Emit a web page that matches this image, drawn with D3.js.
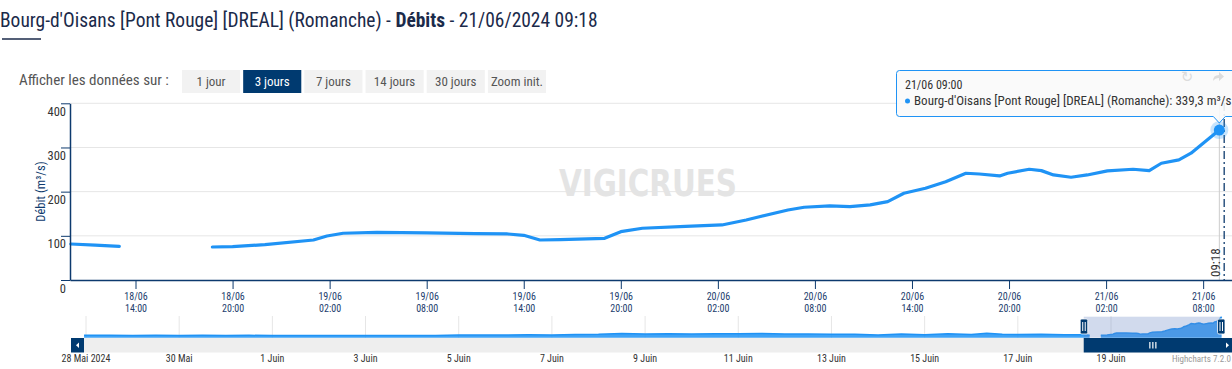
<!DOCTYPE html>
<html>
<head>
<meta charset="utf-8">
<script src="https://cdnjs.cloudflare.com/ajax/libs/d3/7.8.5/d3.min.js"></script>
<style>
  html, body { margin: 0; padding: 0; background: #fff; overflow: hidden; }
  svg { display: block; }
</style>
</head>
<body>
<div id="chart"></div>
<script>
var parse = d3.timeParse("%Y-%m-%dT%H:%M")

var stationName = "Bourg-d'Oisans [Pont Rouge] [DREAL] (Romanche)"
var rangeButtons = ["1 jour", "3 jours", "7 jours", "14 jours", "30 jours", "Zoom init."]
var activeButton = "3 jours"

// observed flows (m3/s), null = gap in the record
var obsTimes = [
  "2024-06-18T10:00", "2024-06-18T11:30", "2024-06-18T13:00", "2024-06-18T15:30",
  "2024-06-18T18:45", "2024-06-18T20:00", "2024-06-18T22:00", "2024-06-19T01:00",
  "2024-06-19T01:50", "2024-06-19T02:50", "2024-06-19T04:55", "2024-06-19T08:00",
  "2024-06-19T11:00", "2024-06-19T13:00", "2024-06-19T14:00", "2024-06-19T15:00",
  "2024-06-19T16:15", "2024-06-19T19:00", "2024-06-19T20:00", "2024-06-19T21:20",
  "2024-06-20T00:00", "2024-06-20T02:15", "2024-06-20T03:45", "2024-06-20T06:20",
  "2024-06-20T07:20", "2024-06-20T08:55", "2024-06-20T10:10", "2024-06-20T11:25",
  "2024-06-20T12:30", "2024-06-20T13:30", "2024-06-20T14:50", "2024-06-20T16:05",
  "2024-06-20T17:20", "2024-06-20T18:10", "2024-06-20T19:25", "2024-06-20T19:55",
  "2024-06-20T21:15", "2024-06-20T22:00", "2024-06-20T22:45", "2024-06-20T23:50",
  "2024-06-21T00:50", "2024-06-21T02:05", "2024-06-21T03:40", "2024-06-21T04:40",
  "2024-06-21T05:25", "2024-06-21T06:30", "2024-06-21T07:15", "2024-06-21T08:00",
  "2024-06-21T09:00"
]
var obsValues = [
  81.5, 79, 76.3, null,
  74.7, 75.4, 80, 90.6,
  99.7, 105.8, 108, 106.5,
  104.9, 104.2, 101.2, 90.6,
  91.3, 94.4, 109.4, 117.1,
  121.6, 124.6, 135.9, 158.5,
  164.7, 167.6, 166, 169.9,
  177.3, 196.4, 207.7, 222.6,
  241.7, 240, 235.6, 241.7,
  250.7, 247.6, 237.8, 232.6,
  237.8, 246.9, 250.7, 247.6,
  264.3, 271.8, 287, 309.6,
  339.3
]

// older record shown only in the navigator
var navTimes = [
  "2024-05-27T23:00", "2024-05-28T12:00", "2024-05-29T00:00", "2024-05-29T12:00",
  "2024-05-30T00:00", "2024-05-30T12:00", "2024-05-31T00:00", "2024-05-31T12:00",
  "2024-06-01T00:00", "2024-06-01T12:00", "2024-06-02T00:00", "2024-06-02T12:00",
  "2024-06-03T00:00", "2024-06-03T12:00", "2024-06-04T00:00", "2024-06-04T12:00",
  "2024-06-05T00:00", "2024-06-05T12:00", "2024-06-06T00:00", "2024-06-06T12:00",
  "2024-06-07T00:00", "2024-06-07T12:00", "2024-06-08T00:00", "2024-06-08T12:00",
  "2024-06-09T00:00", "2024-06-09T12:00", "2024-06-10T00:00", "2024-06-10T12:00",
  "2024-06-11T00:00", "2024-06-11T12:00", "2024-06-12T00:00", "2024-06-12T12:00",
  "2024-06-13T00:00", "2024-06-13T12:00", "2024-06-14T00:00", "2024-06-14T12:00",
  "2024-06-15T00:00", "2024-06-15T12:00", "2024-06-16T00:00", "2024-06-16T08:00",
  "2024-06-16T16:00", "2024-06-17T00:00", "2024-06-17T12:00", "2024-06-18T00:00"
]
var navValues = [
  76, 74, 72, 74,
  73, 76, 72, 74,
  71, 72, 70, 71,
  70, 71, 70, 72,
  78, 80, 78, 82,
  80, 84, 88, 100,
  92, 98, 92, 96,
  98, 100, 94, 92,
  90, 88, 80, 92,
  82, 96, 86, 104,
  88, 86, 90, 82
]

var yTicks = [0, 100, 200, 300, 400]
var xTicks = [
  "2024-06-18T14:00", "2024-06-18T20:00", "2024-06-19T02:00", "2024-06-19T08:00",
  "2024-06-19T14:00", "2024-06-19T20:00", "2024-06-20T02:00", "2024-06-20T08:00",
  "2024-06-20T14:00", "2024-06-20T20:00", "2024-06-21T02:00", "2024-06-21T08:00"
]
var navTicks = [
  "2024-05-28T00:00", "2024-05-30T00:00", "2024-06-01T00:00", "2024-06-03T00:00",
  "2024-06-05T00:00", "2024-06-07T00:00", "2024-06-09T00:00", "2024-06-11T00:00",
  "2024-06-13T00:00", "2024-06-15T00:00", "2024-06-17T00:00", "2024-06-19T00:00"
]
var navTickLabels = ["28 Mai 2024", "30 Mai", "1 Juin", "3 Juin", "5 Juin", "7 Juin",
  "9 Juin", "11 Juin", "13 Juin", "15 Juin", "17 Juin", "19 Juin"]

var viewStart = "2024-06-18T09:57"
var viewEnd = "2024-06-21T09:47"
var lastObs = "2024-06-21T09:18"
var hoverTime = "2024-06-21T09:00"

var FONT = "'Liberation Sans Narrow','Arial Narrow','Roboto Condensed','Noto Sans',sans-serif"
var NAVY = "#0d3a6e"
var BLUE = "#1f93f5"
var W = 1232, H = 369

var fr = d3.formatLocale({decimal: ",", thousands: " ", grouping: [3], currency: ["", " €"]})

function fitWidth(sel, w) {
  var cur = sel.node().getComputedTextLength()
  var fs = parseFloat(sel.style("font-size"))
  sel.style("font-size", (fs * w / cur) + "px")
}

var obs = obsTimes.map(function(t, i) { return {t: parse(t), v: obsValues[i]} })
var nav = navTimes.map(function(t, i) { return {t: parse(t), v: navValues[i]} }).concat(obs)

var svg = d3.select("#chart").append("svg")
  .attr("width", W).attr("height", H)
  .style("font-family", FONT)

// title
var title = svg.append("text")
  .attr("x", 0).attr("y", 27)
  .attr("fill", "#1b2a4a")
  .style("font-size", "20px")
title.append("tspan").text(stationName + " - ")
title.append("tspan").attr("font-weight", "bold").text("Débits")
title.append("tspan").text(" - 21/06/2024 09:18")
fitWidth(title, 598)

svg.append("line")
  .attr("x1", 2).attr("x2", 41).attr("y1", 39).attr("y2", 39)
  .attr("stroke", "#1b2a4a").attr("stroke-width", 1.5)

// range selector
var lbl = svg.append("text")
  .attr("x", 19).attr("y", 85)
  .attr("fill", "#555").style("font-size", "13px")
  .text("Afficher les données sur :")
fitWidth(lbl, 150)

var bx = d3.scaleBand().domain(rangeButtons).range([182, 546]).paddingInner(0.05)
var btn = svg.append("g").selectAll("g")
  .data(rangeButtons)
  .enter().append("g")
  .attr("transform", function(d) { return "translate(" + bx(d) + ",70)" })
btn.append("rect")
  .attr("width", bx.bandwidth()).attr("height", 23)
  .attr("fill", function(d) { return d === activeButton ? "#003a70" : "#f2f2f2" })
btn.append("text")
  .attr("x", bx.bandwidth() / 2).attr("y", 16)
  .attr("text-anchor", "middle")
  .style("font-size", "13px")
  .attr("fill", function(d) { return d === activeButton ? "#fff" : "#555" })
  .text(function(d) { return d })

// main plot scales
var x = d3.scaleTime().domain([parse(viewStart), parse(viewEnd)]).range([70, W])
var y = d3.scaleLinear().domain([0, 400]).range([280, 103.3])

svg.append("g").selectAll("line")
  .data(yTicks.filter(function(d) { return d > 0 }))
  .enter().append("line")
  .attr("x1", 70).attr("x2", W)
  .attr("y1", function(d) { return y(d) }).attr("y2", function(d) { return y(d) })
  .attr("stroke", "#e6e6e6")

// watermark
svg.append("text")
  .attr("x", 648).attr("y", 196)
  .attr("text-anchor", "middle")
  .attr("fill", "#e4e4e4")
  .style("font-family", "'DejaVu Sans',sans-serif")
  .style("font-weight", "bold").style("font-size", "38px")
  .attr("textLength", 178).attr("lengthAdjust", "spacingAndGlyphs")
  .text("VIGICRUES")

// hover crosshair + 09:18 plot line
var hx = x(parse(hoverTime))
svg.append("line")
  .attr("x1", hx).attr("x2", hx).attr("y1", 103).attr("y2", 280)
  .attr("stroke", "#cccccc")
var px = x(parse(lastObs))
svg.append("line")
  .attr("x1", px).attr("x2", px).attr("y1", 103).attr("y2", 280)
  .attr("stroke", NAVY).attr("stroke-width", 1.3)
  .attr("stroke-dasharray", "8,3,2,3")
svg.append("text")
  .attr("transform", "translate(" + (hx + 1) + ",277) rotate(-90)")
  .attr("fill", "#333").style("font-size", "13px")
  .text(d3.timeFormat("%H:%M")(parse(lastObs)))

// series
var line = d3.line()
  .defined(function(d) { return d.v != null })
  .x(function(d) { return x(d.t) })
  .y(function(d) { return y(d.v) })
svg.append("path")
  .datum(obs)
  .attr("d", line)
  .attr("fill", "none")
  .attr("stroke", BLUE).attr("stroke-width", 3.2)
  .attr("stroke-linejoin", "round").attr("stroke-linecap", "round")

// axes
var xAxis = svg.append("g")
  .attr("transform", "translate(0,280)")
  .call(d3.axisBottom(x).tickValues(xTicks.map(parse)).tickSize(9).tickSizeOuter(0).tickFormat(""))
xAxis.select(".domain").attr("stroke", NAVY).attr("stroke-width", 1.5)
xAxis.selectAll(".tick line").attr("stroke", NAVY)
xAxis.selectAll(".tick text").remove()
var xl = xAxis.selectAll(".tick").append("text")
  .attr("text-anchor", "middle").attr("fill", "#23406e")
  .style("font-size", "10px").style("font-family", FONT)
xl.append("tspan").attr("x", 0).attr("y", 20).text(function(d) { return d3.timeFormat("%d/%m")(d) })
xl.append("tspan").attr("x", 0).attr("y", 32).text(function(d) { return d3.timeFormat("%H:%M")(d) })

var yAxis = svg.append("g")
  .attr("transform", "translate(70,0)")
  .call(d3.axisLeft(y).tickValues(yTicks).tickSize(9).tickSizeOuter(0))
yAxis.select(".domain").attr("stroke", NAVY).attr("stroke-width", 1.5)
yAxis.selectAll(".tick line").attr("stroke", NAVY)
yAxis.selectAll(".tick text")
  .attr("x", -4).attr("dy", 12)
  .attr("fill", "#333").style("font-size", "12.5px").style("font-family", FONT)

svg.append("text")
  .attr("transform", "translate(45," + ((103 + 280) / 2) + ") rotate(-90)")
  .attr("text-anchor", "middle")
  .attr("fill", NAVY).style("font-size", "12.5px")
  .text("Débit (m³/s)")

// hover marker
var last = obs[obs.length - 1]
svg.append("circle").attr("cx", x(last.t)).attr("cy", y(last.v)).attr("r", 9)
  .attr("fill", BLUE).attr("fill-opacity", 0.25)
svg.append("circle").attr("cx", x(last.t)).attr("cy", y(last.v)).attr("r", 5.5)
  .attr("fill", BLUE)

// tooltip
var tx0 = 896.5, ty0 = 70.5, tx1 = 1250, ty1 = 116.5, ax = x(last.t), ay = 123
svg.append("path")
  .attr("d", "M" + (tx0 + 3) + "," + ty0 + "H" + tx1 + "V" + ty1 + "H" + (ax + 6) +
    "L" + ax + "," + ay + "L" + (ax - 6) + "," + ty1 + "H" + (tx0 + 3) +
    "Q" + tx0 + "," + ty1 + " " + tx0 + "," + (ty1 - 3) + "V" + (ty0 + 3) +
    "Q" + tx0 + "," + ty0 + " " + (tx0 + 3) + "," + ty0 + "Z")
  .attr("fill", "rgba(250,250,250,0.9)")
  .attr("stroke", BLUE).attr("stroke-width", 1)

// exporting icons, seen faintly through the tooltip
svg.append("text").attr("x", 1187).attr("y", 82).attr("text-anchor", "middle")
  .attr("fill", "#dcdcdc").style("font-family", "'DejaVu Sans'").style("font-size", "15px").text("↻")
svg.append("path")
  .attr("d", "M1213,81 Q1213,75 1219,75 V72 L1224,76.5 L1219,81 V78 Q1215,78 1213,81 Z")
  .attr("fill", "#dcdcdc")

svg.append("text").attr("x", 905).attr("y", 89)
  .attr("fill", "#333").style("font-size", "12px")
  .text("21/06 09:00")
svg.append("circle").attr("cx", 907.5).attr("cy", 101).attr("r", 2.5).attr("fill", BLUE)
var tt = svg.append("text").attr("x", 914).attr("y", 105)
  .attr("fill", "#333").style("font-size", "12px")
  .text(stationName + ": " + fr.format(".1f")(last.v) + " m³/s")
fitWidth(tt, 318)

// navigator
var navX = d3.scaleTime().domain([parse("2024-05-28T00:00"), parse("2024-06-19T00:00")]).range([86, 1111])
var navY = d3.scaleLinear().domain([40, 340]).range([337.7, 316.7])

svg.append("g").selectAll("line")
  .data(navTicks.map(parse))
  .enter().append("line")
  .attr("x1", function(d) { return navX(d) }).attr("x2", function(d) { return navX(d) })
  .attr("y1", 316).attr("y2", 337.7)
  .attr("stroke", "#e6e6e6")

var area = d3.area()
  .defined(function(d) { return d.v != null })
  .x(function(d) { return navX(d.t) })
  .y0(337.7)
  .y1(function(d) { return navY(d.v) })
svg.append("path").datum(nav).attr("d", area)
  .attr("fill", BLUE).attr("fill-opacity", 0.85)
svg.append("path").datum(nav)
  .attr("d", d3.line().defined(function(d) { return d.v != null })
    .x(function(d) { return navX(d.t) }).y(function(d) { return navY(d.v) }))
  .attr("fill", "none").attr("stroke", BLUE).attr("stroke-width", 1.5)

var m0 = navX(parse(viewStart)), m1 = Math.min(navX(parse(viewEnd)), 1221)
svg.append("rect")
  .attr("x", m0).attr("y", 316.7).attr("width", m1 - m0).attr("height", 21)
  .attr("fill", "rgba(102,133,194,0.3)")

// scrollbar
svg.append("rect").attr("x", 84).attr("y", 338).attr("width", 1221 - 84).attr("height", 14.5).attr("fill", "#eeeeee")
svg.append("rect").attr("x", m0).attr("y", 338).attr("width", m1 - m0).attr("height", 14.5).attr("fill", "#003a70")
svg.append("rect").attr("x", 71).attr("y", 338).attr("width", 13).attr("height", 14.5).attr("fill", "#003a70")
svg.append("rect").attr("x", 1221).attr("y", 338).attr("width", 13).attr("height", 14.5).attr("fill", "#003a70")
svg.append("path").attr("d", "M79,342.5L76,345.2L79,348Z").attr("fill", "#fff")
svg.append("path").attr("d", "M1226,342.5L1229,345.2L1226,348Z").attr("fill", "#fff")
var mid = (m0 + m1) / 2
svg.append("g").selectAll("line").data([-3, 0, 3]).enter().append("line")
  .attr("x1", function(d) { return mid + d + 0.5 }).attr("x2", function(d) { return mid + d + 0.5 })
  .attr("y1", 342).attr("y2", 348.5)
  .attr("stroke", "#fff").attr("stroke-width", 1.2)

// handles
var hnd = svg.append("g").selectAll("g").data([m0, m1]).enter().append("g")
  .attr("transform", function(d) { return "translate(" + d + ",0)" })
hnd.append("rect").attr("x", -3.5).attr("y", 319).attr("width", 7.5).attr("height", 15).attr("rx", 1.5)
  .attr("fill", "#003a70").attr("stroke", "#fff").attr("stroke-width", 0.8)
hnd.append("line").attr("x1", -1).attr("x2", -1).attr("y1", 322).attr("y2", 331).attr("stroke", "#fff")
hnd.append("line").attr("x1", 1.5).attr("x2", 1.5).attr("y1", 322).attr("y2", 331).attr("stroke", "#fff")

svg.append("g").selectAll("text")
  .data(navTicks)
  .enter().append("text")
  .attr("x", function(d) { return navX(parse(d)) })
  .attr("y", 362)
  .attr("text-anchor", "middle")
  .attr("fill", "#333").style("font-size", "10px")
  .text(function(d, i) { return navTickLabels[i] })

svg.append("text").attr("x", 1231).attr("y", 362).attr("text-anchor", "end")
  .attr("fill", "#999").style("font-size", "9px").text("Highcharts 7.2.0")
</script>
</body>
</html>
